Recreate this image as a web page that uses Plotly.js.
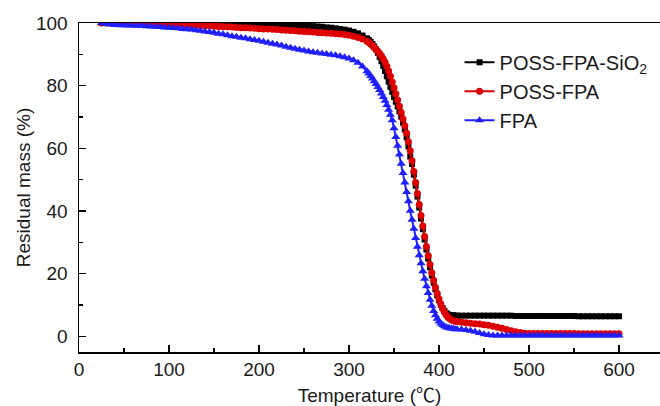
<!DOCTYPE html>
<html>
<head>
<meta charset="utf-8">
<script src="https://cdn.plot.ly/plotly-3.0.1.min.js"></script>
<style>html,body{margin:0;padding:0;background:#fff;}</style>
</head>
<body>
<div id="chart" style="width:660px;height:406px;"></div>
<script>
// Temperature (°C) sampling points shared by the three TGA curves
const temperature = [
  25,30,35,40,45,50,55,60,65,70,75,80,85,90,95,100,105,110,115,120,
  125,130,135,140,145,150,155,160,165,170,175,180,185,190,195,200,205,210,215,220,
  225,230,235,240,245,250,255,260,265,270,275,280,285,290,295,300,305,310,315,320,
  322,324,326,328,330,332,334,336,338,340,342,344,346,348,350,352,354,356,358,360,
  362,364,366,368,370,372,374,376,378,380,382,384,386,388,390,392,394,396,398,400,
  402,404,406,408,410,412,414,416,418,420,
  425,430,435,440,445,450,455,460,465,470,475,480,485,490,495,500,505,510,515,520,
  525,530,535,540,545,550,555,560,565,570,575,580,585,590,595,600
];

const seriesNames = ['POSS-FPA-SiO<sub>2</sub>', 'POSS-FPA', 'FPA'];

const possFpaSiO2 = [
  100,100,100,100,100,100,100,100,100,100,100,100,100,100,100,99.9,99.9,99.9,99.9,99.9,
  99.8,99.8,99.8,99.8,99.8,99.8,99.7,99.7,99.7,99.7,99.7,99.6,99.6,99.6,99.6,99.6,99.5,99.5,99.5,99.4,
  99.4,99.3,99.3,99.3,99.2,99.1,99.1,99,98.9,98.8,98.6,98.5,98.3,98.1,97.9,97.6,97.2,96.7,96,95.1,
  94.6,94,93.3,92.5,91.6,90.5,89.2,87.8,86.3,84.7,83,81.3,79.6,78,76.4,74.9,73.4,71.8,70.1,68.2,
  66,63.5,60.6,57.4,55,51.6,48.1,44.6,41.1,37.6,34.2,30.9,27.7,24.8,22,19.4,17.1,15,13.1,11.5,
  10.1,9,8.1,7.4,7,6.8,6.7,6.7,6.6,6.6,
  6.6,6.6,6.6,6.6,6.6,6.6,6.6,6.6,6.6,6.6,6.6,6.6,6.5,6.5,6.5,6.5,6.5,6.5,6.5,6.5,
  6.5,6.5,6.5,6.5,6.5,6.5,6.4,6.4,6.4,6.4,6.4,6.4,6.4,6.4,6.4,6.4
];

const possFpa = [
  100,100,100,100,100,100,100,100,100,100,100,99.9,99.9,99.8,99.8,99.7,99.6,99.6,99.5,99.4,
  99.4,99.3,99.2,99.1,99.1,99,98.9,98.8,98.8,98.7,98.6,98.5,98.5,98.4,98.3,98.2,98.1,98.1,98,97.9,
  97.8,97.7,97.6,97.5,97.4,97.3,97.2,97.1,97,96.9,96.8,96.7,96.6,96.5,96.3,96.1,95.8,95.4,94.9,94.2,
  93.8,93.3,92.8,92.2,91.6,91,90.3,89.5,88.6,87.5,86.2,84.7,83,81.2,79.3,77.4,75.4,73.4,71.4,69.4,
  67.2,64.8,62.1,59.2,56,52.6,49.1,45.6,42.1,38.6,35.2,31.9,28.7,25.7,22.9,20.3,17.9,15.7,13.7,11.9,
  10.3,8.9,7.7,6.8,6.1,5.6,5.2,5,4.8,4.7,
  4.5,4.3,4.2,4,3.9,3.7,3.5,3.2,2.9,2.6,2.2,1.8,1.5,1.2,1,0.9,0.9,0.9,0.9,0.9,
  0.9,0.9,0.9,0.9,0.9,0.9,0.8,0.8,0.8,0.8,0.8,0.8,0.8,0.8,0.8,0.8
];

const fpa = [
  100,99.7,99.5,99.4,99.3,99.3,99.2,99.2,99.1,99.1,99,98.9,98.8,98.7,98.6,98.5,98.4,98.3,98.1,98,
  97.9,97.7,97.5,97.3,97.1,96.9,96.6,96.4,96.1,95.8,95.6,95.3,95.1,94.8,94.6,94.3,94,93.7,93.4,93.1,
  92.8,92.4,92.1,91.8,91.5,91.2,90.9,90.7,90.5,90.3,90.1,89.9,89.7,89.4,89.1,88.7,88.1,87.3,86.1,84.6,
  83.9,83.1,82.3,81.4,80.5,79.6,78.6,77.5,76.4,75.2,73.8,72.3,70.7,69,66.4,63.6,60.8,58,55.1,52.1,
  49.1,46.1,43.1,40.1,37.2,34.3,31.4,28.6,25.9,23.3,20.8,18.4,16,13.8,11.7,9.8,8.1,6.7,5.6,4.7,
  4.1,3.6,3.2,2.9,2.7,2.6,2.5,2.4,2.3,2.3,
  2.2,2,1.8,1.5,1.1,0.7,0.4,0.3,0.3,0.3,0.3,0.3,0.3,0.3,0.3,0.3,0.3,0.3,0.3,0.3,
  0.3,0.3,0.3,0.3,0.3,0.3,0.3,0.3,0.3,0.3,0.3,0.3,0.3,0.3,0.3,0.3
];

const xTickValues = [0, 100, 200, 300, 400, 500, 600];
const yTickValues = [0, 20, 40, 60, 80, 100];

const FONT = '"Liberation Sans", Arial, "Noto Sans CJK SC", sans-serif';

const traces = [
  {x: temperature, y: possFpaSiO2, name: seriesNames[0], type: 'scatter', mode: 'lines+markers',
   line: {color: '#000000', width: 2}, marker: {symbol: 'square', size: 6, color: '#000000'}},
  {x: temperature, y: possFpa, name: seriesNames[1], type: 'scatter', mode: 'lines+markers',
   line: {color: '#dd0000', width: 2}, marker: {symbol: 'circle', size: 7, color: '#dd0000'}},
  {x: temperature, y: fpa, name: seriesNames[2], type: 'scatter', mode: 'lines+markers',
   line: {color: '#1f1fff', width: 2}, marker: {symbol: 'triangle-up', size: 8, color: '#1f1fff'}}
];

const layout = {
  width: 660, height: 406,
  margin: {l: 79, r: 0, t: 23, b: 54, pad: 0},
  paper_bgcolor: '#ffffff', plot_bgcolor: '#ffffff',
  font: {family: FONT, size: 19, color: '#1a1a1a'},
  showlegend: true,
  legend: {x: 0.655, y: 0.94, xanchor: 'left', yanchor: 'top', bgcolor: 'rgba(0,0,0,0)',
           font: {family: FONT, size: 20, color: '#1a1a1a'}, tracegroupgap: 0},
  xaxis: {
    range: [0, 645.5], tickvals: xTickValues, ticks: 'inside', ticklen: 7, tickwidth: 1.5,
    tickcolor: '#000', showline: true, linecolor: '#000', linewidth: 1.5, mirror: true,
    showgrid: false, zeroline: false, ticklabelstandoff: 0,
    minor: {dtick: 50, ticks: 'inside', ticklen: 4, tickwidth: 1.5, tickcolor: '#000', showgrid: false},
    title: {text: 'Temperature (℃)', font: {family: FONT, size: 19, color: '#1a1a1a'}, standoff: 10}
  },
  yaxis: {
    range: [-5, 100], tickvals: yTickValues, ticks: 'inside', ticklen: 7, tickwidth: 1.5,
    tickcolor: '#000', showline: true, linecolor: '#000', linewidth: 1.5, mirror: false,
    showgrid: false, zeroline: false, ticklabelstandoff: 6,
    minor: {dtick: 10, ticks: 'inside', ticklen: 4, tickwidth: 1.5, tickcolor: '#000', showgrid: false},
    title: {text: 'Residual mass (%)', font: {family: FONT, size: 19, color: '#1a1a1a'}, standoff: 0}
  }
};

Plotly.newPlot('chart', traces, layout, {displayModeBar: false, staticPlot: true});
</script>
</body>
</html>
